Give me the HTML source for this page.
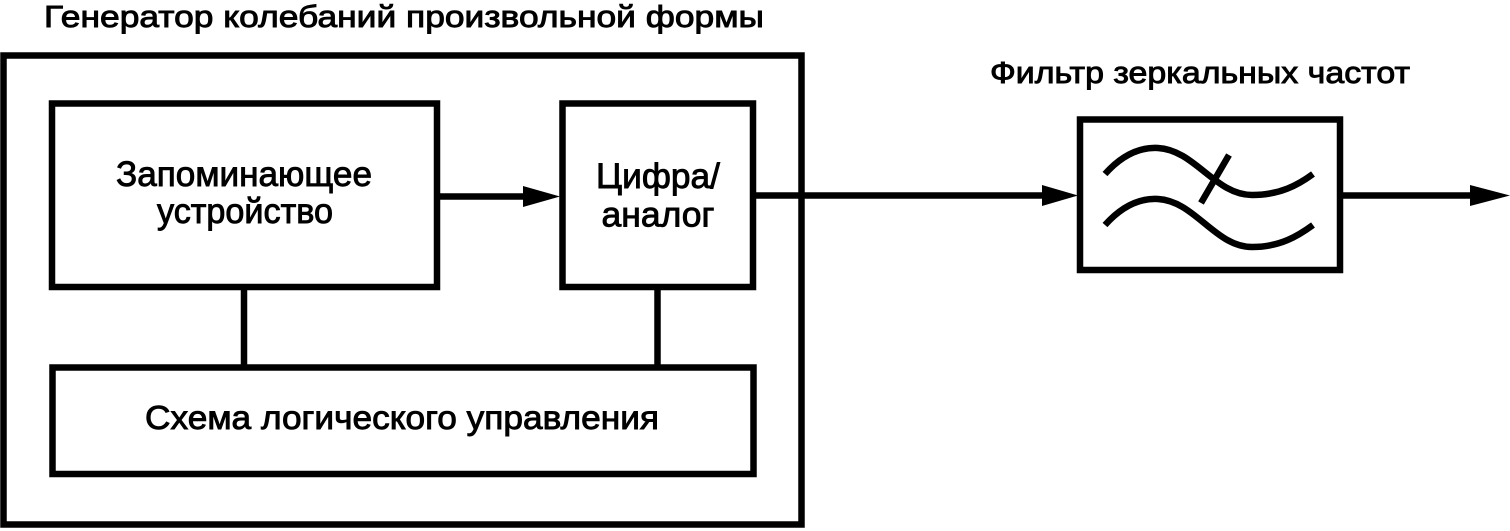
<!DOCTYPE html>
<html>
<head>
<meta charset="utf-8">
<style>
  html, body { margin: 0; padding: 0; background: #fff; }
  svg { display: block; }
  text { font-family: "Liberation Sans", "DejaVu Sans", sans-serif; fill: #000; stroke: #000; stroke-width: 0.9; }
</style>
</head>
<body>
<svg width="1510" height="531" viewBox="0 0 1510 531" xmlns="http://www.w3.org/2000/svg">
  <rect x="0" y="0" width="1510" height="531" fill="#fff"/>

  <!-- Titles -->
  <text x="44" y="27" font-size="30.5" textLength="720" lengthAdjust="spacingAndGlyphs">Генератор колебаний произвольной формы</text>
  <text x="990" y="83" font-size="30.5" textLength="420" lengthAdjust="spacingAndGlyphs">Фильтр зеркальных частот</text>

  <g fill="none" stroke="#000" stroke-width="6.5" stroke-linejoin="miter">
    <!-- Outer generator box -->
    <rect x="3.5" y="55.5" width="798" height="469"/>
    <!-- Memory -->
    <rect x="52" y="103.5" width="385" height="183.5"/>
    <!-- DAC -->
    <rect x="562.5" y="103.5" width="190.5" height="183.5"/>
    <!-- Logic -->
    <rect x="52.5" y="367.5" width="701" height="106.5"/>
    <!-- Filter -->
    <rect x="1080" y="119.5" width="260" height="150.5"/>

    <!-- vertical connectors -->
    <line x1="244" y1="287" x2="244" y2="367"/>
    <line x1="657.5" y1="287" x2="657.5" y2="367"/>

    <!-- memory -> DAC -->
    <line x1="437" y1="196.5" x2="526" y2="196.5"/>
    <!-- DAC -> filter -->
    <line x1="753" y1="195.5" x2="1045" y2="195.5"/>
    <!-- filter -> output -->
    <line x1="1340" y1="195.5" x2="1474" y2="195.5"/>
  </g>

  <!-- arrowheads -->
  <polygon points="523,186 560,196.5 523,207" fill="#000"/>
  <polygon points="1042,185 1078,195.5 1042,206" fill="#000"/>
  <polygon points="1470,185 1510,195.5 1470,206" fill="#000"/>

  <!-- Filter symbol -->
  <g fill="none" stroke="#000" stroke-width="6.5" stroke-linecap="butt">
    <path d="M1105,174 C1122,155 1140,147 1158,148 C1195,150 1215,195 1252,195 C1280,195 1298,185 1313,174"/>
    <path d="M1105,225 C1122,206 1140,198 1158,199 C1195,201 1215,247 1252,247 C1280,247 1298,236 1313,225"/>
    <line x1="1229" y1="155" x2="1201" y2="203"/>
  </g>

  <!-- Block labels -->
  <text x="244" y="186" font-size="35.5" text-anchor="middle" textLength="256" lengthAdjust="spacingAndGlyphs">Запоминающее</text>
  <text x="245" y="223" font-size="35.5" text-anchor="middle" textLength="176" lengthAdjust="spacingAndGlyphs">устройство</text>

  <text x="658" y="188" font-size="35.5" text-anchor="middle" textLength="124" lengthAdjust="spacingAndGlyphs">Цифра/</text>
  <text x="658" y="226.5" font-size="35.5" text-anchor="middle" textLength="113" lengthAdjust="spacingAndGlyphs">аналог</text>

  <text x="402" y="429" font-size="33.5" text-anchor="middle" textLength="514" lengthAdjust="spacingAndGlyphs">Схема логического управления</text>
</svg>
</body>
</html>
